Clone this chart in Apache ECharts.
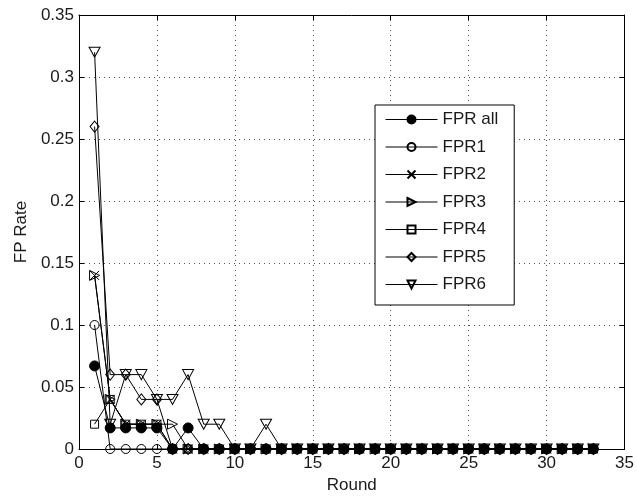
<!DOCTYPE html>
<html>
<head>
<meta charset="utf-8">
<script src="https://cdn.jsdelivr.net/npm/echarts@6/dist/echarts.min.js"></script>
<style>
html,body{margin:0;padding:0;background:#fff;}
#chart{width:637px;height:502px;}
</style>
</head>
<body>
<div id="chart"></div>
<script>
const rounds = [1,2,3,4,5,6,7,8,9,10,11,12,13,14,15,16,17,18,19,20,21,22,23,24,25,26,27,28,29,30,31,32,33];
const fprAll = [0.067,0.017,0.017,0.017,0.017,0,0.017,0,0,0,0,0,0,0,0,0,0,0,0,0,0,0,0,0,0,0,0,0,0,0,0,0,0];
const fpr1   = [0.1,0,0,0,0,0,0,0,0,0,0,0,0,0,0,0,0,0,0,0,0,0,0,0,0,0,0,0,0,0,0,0,0];
const fpr2   = [0.14,0.04,0.02,0.02,0.02,0,0,0,0,0,0,0,0,0,0,0,0,0,0,0,0,0,0,0,0,0,0,0,0,0,0,0,0];
const fpr3   = [0.14,0.04,0.02,0.02,0.02,0.02,0,0,0,0,0,0,0,0,0,0,0,0,0,0,0,0,0,0,0,0,0,0,0,0,0,0,0];
const fpr4   = [0.02,0.04,0.02,0.02,0.02,0,0,0,0,0,0,0,0,0,0,0,0,0,0,0,0,0,0,0,0,0,0,0,0,0,0,0,0];
const fpr5   = [0.26,0.06,0.06,0.04,0.04,0,0,0,0,0,0,0,0,0,0,0,0,0,0,0,0,0,0,0,0,0,0,0,0,0,0,0,0];
const fpr6   = [0.32,0.02,0.06,0.06,0.04,0.04,0.06,0.02,0.02,0,0,0.02,0,0,0,0,0,0,0,0,0,0,0,0,0,0,0,0,0,0,0,0,0];
const seriesNames = ['FPR all','FPR1','FPR2','FPR3','FPR4','FPR5','FPR6'];
const xTicks = [0,5,10,15,20,25,30,35];
const yTicks = [0,0.05,0.1,0.15,0.2,0.25,0.3,0.35];

const FONT = 'Liberation Sans, Arial, Helvetica, sans-serif';
const TXT = '#1a1a1a';
const FS = 17;

function pairs(vals){ return rounds.map((r,i)=>[r, vals[i]]); }

const markers = [
  {symbol:'circle', size:10, fill:'#000'},
  {symbol:'circle', size:9, fill:'rgba(0,0,0,0)'},
  {symbol:'path://M0,0L10,10M10,0L0,10', size:9, fill:'rgba(0,0,0,0)'},
  {symbol:'path://M0,0L10,5L0,10Z', size:[10,10], fill:'rgba(0,0,0,0)'},
  {symbol:'rect', size:8, fill:'rgba(0,0,0,0)'},
  {symbol:'diamond', size:[9,11], fill:'rgba(0,0,0,0)'},
  {symbol:'path://M0,0L10,0L5,10Z', size:[11,10], fill:'rgba(0,0,0,0)'}
];
const allData = [fprAll,fpr1,fpr2,fpr3,fpr4,fpr5,fpr6];

const series = seriesNames.map((n,i)=>({
  name:n, type:'line', xAxisIndex:0, yAxisIndex:0,
  data:pairs(allData[i]),
  symbol:markers[i].symbol, symbolSize:markers[i].size,
  showAllSymbol:true,
  lineStyle:{color:'#000', width:1},
  itemStyle:{color:markers[i].fill, borderColor:'#000', borderWidth:1},
  emphasis:{disabled:true},
  animation:false
}));

const xMin = xTicks[0], xMax = xTicks[xTicks.length-1], xInt = xTicks[1]-xTicks[0];
const yMin = yTicks[0], yMax = yTicks[yTicks.length-1], yInt = yTicks[1]-yTicks[0];

const chart = echarts.init(document.getElementById('chart'), null, {renderer:'canvas'});
chart.setOption({
  backgroundColor:'#fff',
  animation:false,
  grid:{left:79, right:12, top:15, bottom:53, show:false},
  legend:{
    orient:'vertical', left:375, top:105,
    backgroundColor:'#fff', borderColor:'#000', borderWidth:1,
    padding:[6,16,12,10],
    itemWidth:52, itemHeight:10, itemGap:10.5,
    lineStyle:{width:1},
    textStyle:{fontFamily:FONT, fontSize:FS, color:TXT},
    data:seriesNames
  },
  xAxis:[{
    type:'value', min:xMin, max:xMax, interval:xInt, position:'bottom',
    name:'Round', nameLocation:'middle', nameGap:27,
    nameTextStyle:{fontFamily:FONT, fontSize:FS, color:TXT},
    axisLine:{show:true, onZero:false, lineStyle:{color:'#000', width:1}},
    axisTick:{show:true, inside:true, length:5, lineStyle:{color:'#000'}},
    axisLabel:{fontFamily:FONT, fontSize:FS, color:TXT, margin:6},
    splitLine:{show:true, lineStyle:{color:'#555', type:[1,4], width:1}}
  },{
    type:'value', min:xMin, max:xMax, interval:xInt, position:'top',
    axisLine:{show:true, onZero:false, lineStyle:{color:'#000', width:1}},
    axisTick:{show:true, inside:true, length:5, lineStyle:{color:'#000'}},
    axisLabel:{show:false}, splitLine:{show:false}
  }],
  yAxis:[{
    type:'value', min:yMin, max:yMax, interval:yInt, position:'left',
    name:'FP Rate', nameLocation:'middle', nameGap:48, nameRotate:90,
    nameTextStyle:{fontFamily:FONT, fontSize:FS, color:TXT},
    axisLine:{show:true, onZero:false, lineStyle:{color:'#000', width:1}},
    axisTick:{show:true, inside:true, length:5, lineStyle:{color:'#000'}},
    axisLabel:{fontFamily:FONT, fontSize:FS, color:TXT, margin:5},
    splitLine:{show:true, lineStyle:{color:'#555', type:[1,4], width:1}}
  },{
    type:'value', min:yMin, max:yMax, interval:yInt, position:'right',
    axisLine:{show:true, onZero:false, lineStyle:{color:'#000', width:1}},
    axisTick:{show:true, inside:true, length:5, lineStyle:{color:'#000'}},
    axisLabel:{show:false}, splitLine:{show:false}
  }],
  series:series
});
</script>
</body>
</html>
